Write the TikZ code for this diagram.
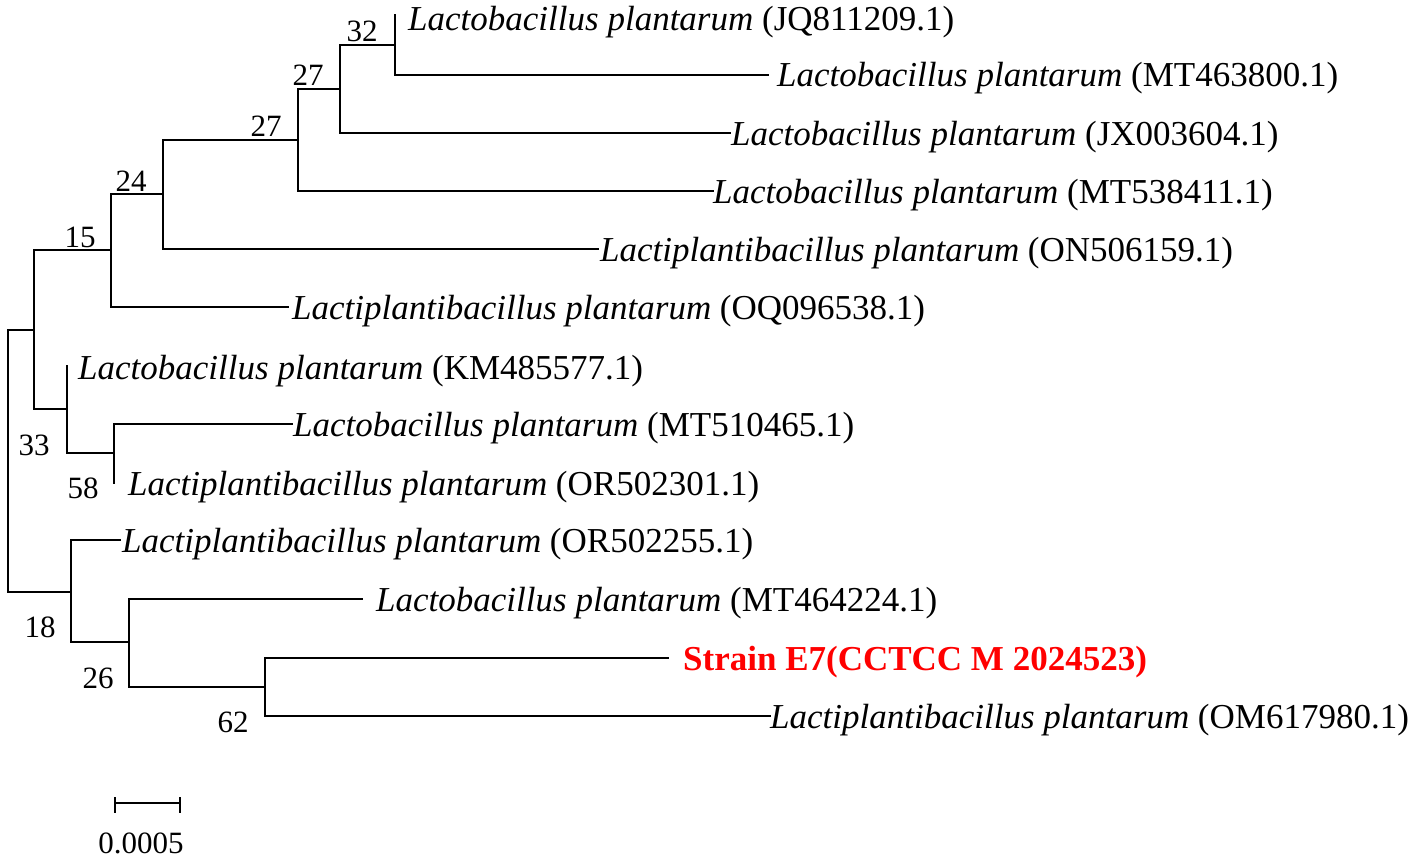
\documentclass[tikz,border=0pt]{standalone}
\usepackage{fontspec}
\setmainfont{Liberation Serif}
\begin{document}
\begin{tikzpicture}[x=1pt,y=-1pt,
  branch/.style={line width=2pt,line cap=rect},
  leaf/.style={anchor=base west,inner sep=0pt,font=\fontsize{35}{40}\selectfont},
  boot/.style={anchor=center,inner sep=0pt,font=\fontsize{31}{36}\selectfont},
  strain/.style={anchor=base west,inner sep=0pt,text=red,font=\fontsize{35}{40}\selectfont\bfseries}]
\useasboundingbox (0,0) rectangle (1417,859);
% leaf branch ends
\coordinate (e1) at (395,15);
\coordinate (e2) at (768,75);
\coordinate (e3) at (730,133);
\coordinate (e4) at (713,191);
\coordinate (e5) at (598,249);
\coordinate (e6) at (288,307);
\coordinate (e7) at (67,366);
\coordinate (e8) at (292,424);
\coordinate (e9) at (114,483);
\coordinate (e10) at (120,540);
\coordinate (e11) at (362,599);
\coordinate (e12) at (668,658);
\coordinate (e13) at (770,716);
% internal nodes
\coordinate (n32) at (395,45);
\coordinate (n27a) at (340,89);
\coordinate (n27b) at (298,140);
\coordinate (n24) at (163,194);
\coordinate (n15) at (111,250);
\coordinate (n33) at (34,330);
\coordinate (n58p) at (67,409);
\coordinate (n58) at (114,453);
\coordinate (n18) at (71,592);
\coordinate (n26) at (129,642);
\coordinate (n62) at (265,687);
\coordinate (root) at (8,461);
% branches
\draw[branch] (e1) -| (n32) |- (e2);
\draw[branch] (n32) -| (n27a) |- (e3);
\draw[branch] (n27a) -| (n27b) |- (e4);
\draw[branch] (n27b) -| (n24) |- (e5);
\draw[branch] (n24) -| (n15) |- (e6);
\draw[branch] (n15) -| (n33) |- (n58p);
\draw[branch] (e7) -| (n58p) |- (n58);
\draw[branch] (e8) -| (n58) |- (e9);
\draw[branch] (n33) -| (root) |- (n18);
\draw[branch] (e10) -| (n18) |- (n26);
\draw[branch] (e11) -| (n26) |- (n62);
\draw[branch] (e12) -| (n62) |- (e13);
% leaf labels
\node[leaf] (t1) at (408,31) {\textit{Lactobacillus plantarum} (JQ811209.1)};
\node[leaf] (t2) at (777,87) {\textit{Lactobacillus plantarum} (MT463800.1)};
\node[leaf] (t3) at (731,145) {\textit{Lactobacillus plantarum} (JX003604.1)};
\node[leaf] (t4) at (713,203) {\textit{Lactobacillus plantarum} (MT538411.1)};
\node[leaf] (t5) at (600,261) {\textit{Lactiplantibacillus plantarum} (ON506159.1)};
\node[leaf] (t6) at (292,319) {\textit{Lactiplantibacillus plantarum} (OQ096538.1)};
\node[leaf] (t7) at (78,379) {\textit{Lactobacillus plantarum} (KM485577.1)};
\node[leaf] (t8) at (293,436) {\textit{Lactobacillus plantarum} (MT510465.1)};
\node[leaf] (t9) at (128,495) {\textit{Lactiplantibacillus plantarum} (OR502301.1)};
\node[leaf] (t10) at (122,552) {\textit{Lactiplantibacillus plantarum} (OR502255.1)};
\node[leaf] (t11) at (376,611) {\textit{Lactobacillus plantarum} (MT464224.1)};
\node[strain] (t12) at (683,670) {Strain E7(CCTCC M 2024523)};
\node[leaf] (t13) at (770,728) {\textit{Lactiplantibacillus plantarum} (OM617980.1)};
% bootstrap values
\node[boot] (b32) at (362,31) {32};
\node[boot] (b27a) at (308,75) {27};
\node[boot] (b27b) at (266,126) {27};
\node[boot] (b24) at (131,181) {24};
\node[boot] (b15) at (80,237) {15};
\node[boot] (b33) at (34,445) {33};
\node[boot] (b58) at (83,488) {58};
\node[boot] (b18) at (40,627) {18};
\node[boot] (b26) at (98,678) {26};
\node[boot] (b62) at (233,722) {62};
% scale bar
\coordinate (s1) at (115,803);
\coordinate (s2) at (180,803);
\coordinate (s1t) at (115,797);
\coordinate (s1b) at (115,813);
\coordinate (s2t) at (180,797);
\coordinate (s2b) at (180,813);
\draw[line width=2pt] (s1) -- (s2);
\draw[line width=2pt] (s1t) -- (s1b);
\draw[line width=2pt] (s2t) -- (s2b);
\node[boot] (sl) at (141,843) {0.0005};
\end{tikzpicture}
\end{document}
